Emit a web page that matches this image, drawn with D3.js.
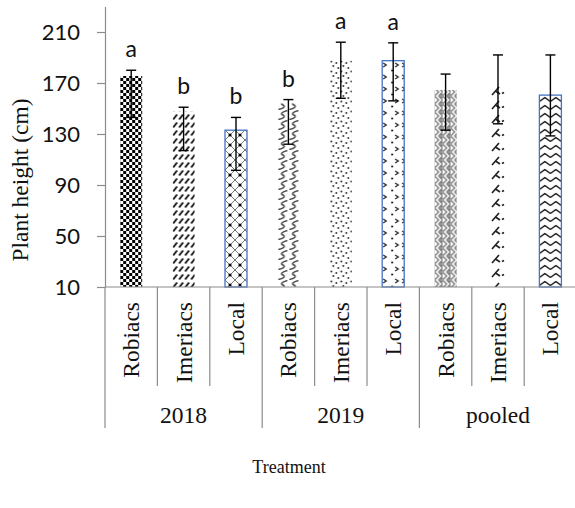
<!DOCTYPE html>
<html>
<head>
<meta charset="utf-8">
<script src="https://cdn.jsdelivr.net/npm/d3@7"></script>
<style>
  html, body { margin: 0; padding: 0; background: #fff; }
  svg { display: block; }
</style>
</head>
<body>
<svg id="chart" width="575" height="508"></svg>
<script>
// Plant height by treatment: three varieties in each season and pooled
const groups = ["2018", "2019", "pooled"];
const varieties = ["Robiacs", "Imeriacs", "Local"];
const heights = [175.5, 147.5, 133, 154, 187.5, 187.5, 164.5, 168, 160.5];
const errUpper = [180, 151, 143, 157, 202, 201.5, 177, 192, 192];
const errLower = [143, 117, 101.5, 122, 158, 156, 133, 138, 128.5];
const letters = ["a", "b", "b", "b", "a", "a", "", "", ""];
const yTicks = [10, 50, 90, 130, 170, 210];
const yTitle = "Plant height (cm)";
const xTitle = "Treatment";

const rows = [];
groups.forEach((g, gi) => varieties.forEach((v, vi) => {
  const i = gi * varieties.length + vi;
  rows.push({ i, group: g, variety: v, value: heights[i], hi: errUpper[i], lo: errLower[i], letter: letters[i] });
}));

const svg = d3.select("#chart");
const axisColor = "#8c8c8c";
const serif = "'Liberation Serif', 'Times New Roman', serif";
const sans = "Lato, 'Open Sans', sans-serif";

const left = 105, right = 576.6, bottom = 287;
const y = d3.scaleLinear().domain([10, 230]).range([bottom, bottom - 220 * 1.275]);
const x = d3.scaleBand().domain(rows.map(d => d.i)).range([left, right])
  .paddingInner(0.58).paddingOuter(0.29);
const step = x.step();

// Fill patterns, one per bar, aligned to the bar's left edge
const defs = svg.append("defs");
function pat(id, w, h, x0, draw) {
  const p = defs.append("pattern").attr("id", id).attr("patternUnits", "userSpaceOnUse")
    .attr("width", w).attr("height", h).attr("x", x0).attr("y", 0);
  p.append("rect").attr("width", w).attr("height", h).attr("fill", "#fff");
  draw(p);
}
const painters = [
  // checkerboard
  p => { p.append("rect").attr("width", 3).attr("height", 3).attr("fill", "#000");
         p.append("rect").attr("x", 3).attr("y", 3).attr("width", 3).attr("height", 3).attr("fill", "#000"); },
  // dashed upward diagonal
  p => p.append("path").attr("d", "M0.5,7.5 L4.5,2.5").attr("stroke", "#000").attr("stroke-width", 1.7),
  // outlined diamond with centre dots
  p => { p.append("path").attr("d", "M0,0 L10,10 M10,0 L0,10").attr("stroke", "#777").attr("stroke-width", 1);
         p.append("circle").attr("cx", 5).attr("cy", 5).attr("r", 1.6).attr("fill", "#000"); },
  // wave
  p => p.append("path").attr("d", "M10,0.5 C4,2 3,4 5.5,5 C8,6 7,8.5 1,9.5")
        .attr("fill", "none").attr("stroke", "#444").attr("stroke-width", 1.4),
  // dotted
  p => [[1.5, 1.5], [6.5, 3], [3.5, 6], [8.5, 8]].forEach(([cx, cy]) =>
        p.append("circle").attr("cx", cx).attr("cy", cy).attr("r", 0.95).attr("fill", "#222")),
  // chevrons with dots
  p => { p.append("path").attr("d", "M1,3 L4,5 L1,7 M13,3 L16,5 L13,7").attr("fill", "none").attr("stroke", "#222").attr("stroke-width", 1.3);
         p.append("circle").attr("cx", 10).attr("cy", 10.5).attr("r", 1).attr("fill", "#000"); },
  // weave
  p => p.append("path").attr("d", "M0,0 L4,4 L0,8 M4,0 L8,4 M4,8 L8,4 M6,0 L8,2 M6,8 L8,6")
        .attr("fill", "none").attr("stroke", "#777").attr("stroke-width", 1.3),
  // divot-like marks
  p => p.append("path").attr("d", "M5,11 L12,3 M8.5,7 L13,10 M15,9.5 L17,8.5")
        .attr("fill", "none").attr("stroke", "#222").attr("stroke-width", 1.7),
  // zig zag
  p => p.append("path").attr("d", "M0,5.5 L5.5,1.5 L11,5.5").attr("fill", "none").attr("stroke", "#000").attr("stroke-width", 1.3)
];
const tileSize = [[6, 6], [6, 8], [10, 10], [11, 10], [10, 10], [19, 12], [8, 8], [22, 14], [11, 8]];
rows.forEach(d => pat("fill" + d.i, tileSize[d.i][0], tileSize[d.i][1], x(d.i), painters[d.i]));

// Bars
const bw = x.bandwidth();
svg.append("g").selectAll("rect").data(rows).join("rect")
  .attr("x", d => x(d.i)).attr("y", d => y(d.value))
  .attr("width", bw).attr("height", d => y(10) - y(d.value))
  .attr("fill", d => `url(#fill${d.i})`)
  .attr("stroke", d => d.variety === "Local" ? "#4472c4" : "none")
  .attr("stroke-width", 1.3);

// Y axis
const yAxis = svg.append("g").attr("transform", `translate(${left},0)`)
  .call(d3.axisLeft(y).tickValues(yTicks).tickSize(8).tickPadding(17).tickSizeOuter(0));
yAxis.select(".domain").attr("stroke", axisColor).attr("stroke-width", 1.2);
yAxis.selectAll(".tick line").attr("stroke", axisColor).attr("stroke-width", 1.2);
yAxis.selectAll(".tick text").attr("font-family", sans).attr("font-size", 22).attr("fill", "#111");

// Category axis line and dividers
svg.append("line").attr("x1", left).attr("x2", right).attr("y1", bottom).attr("y2", bottom)
  .attr("stroke", axisColor).attr("stroke-width", 1.2);
svg.append("g").selectAll("line").data(d3.range(rows.length + 1)).join("line")
  .attr("x1", k => left + k * step).attr("x2", k => left + k * step)
  .attr("y1", bottom).attr("y2", k => k % 3 === 0 ? 428 : 386)
  .attr("stroke", axisColor).attr("stroke-width", 1.2);

// Error bars
const eb = svg.append("g").attr("stroke", "#000").attr("stroke-width", 1.4);
rows.forEach(d => {
  const cx = x(d.i) + bw / 2;
  eb.append("line").attr("x1", cx).attr("x2", cx).attr("y1", y(d.hi)).attr("y2", y(d.lo));
  eb.append("line").attr("x1", cx - 5).attr("x2", cx + 5).attr("y1", y(d.hi)).attr("y2", y(d.hi));
  eb.append("line").attr("x1", cx - 5).attr("x2", cx + 5).attr("y1", y(d.lo)).attr("y2", y(d.lo));
});

// Significance letters
svg.append("g").selectAll("text").data(rows.filter(d => d.letter)).join("text")
  .attr("x", d => x(d.i) + bw / 2).attr("y", d => y(d.hi) - 13)
  .attr("text-anchor", "middle").attr("font-family", sans).attr("font-size", 23).attr("fill", "#111")
  .text(d => d.letter);

// Variety labels (vertical)
svg.append("g").selectAll("text").data(rows).join("text")
  .attr("transform", d => `translate(${x(d.i) + bw / 2 + 8},302) rotate(-90)`)
  .attr("text-anchor", "end").attr("font-family", serif).attr("font-size", 23.5).attr("fill", "#111")
  .text(d => d.variety);

// Group labels
svg.append("g").selectAll("text").data(groups).join("text")
  .attr("x", (g, gi) => left + (gi * 3 + 1.5) * step).attr("y", 423)
  .attr("text-anchor", "middle").attr("font-family", serif).attr("font-size", 23.5).attr("fill", "#111")
  .text(g => g);

// Axis titles
svg.append("text").attr("transform", "translate(28,180) rotate(-90)")
  .attr("text-anchor", "middle").attr("font-family", serif).attr("font-size", 23.5).attr("fill", "#111")
  .text(yTitle);
svg.append("text").attr("x", 289).attr("y", 473)
  .attr("text-anchor", "middle").attr("font-family", serif).attr("font-size", 18).attr("fill", "#111")
  .text(xTitle);
</script>
</body>
</html>
